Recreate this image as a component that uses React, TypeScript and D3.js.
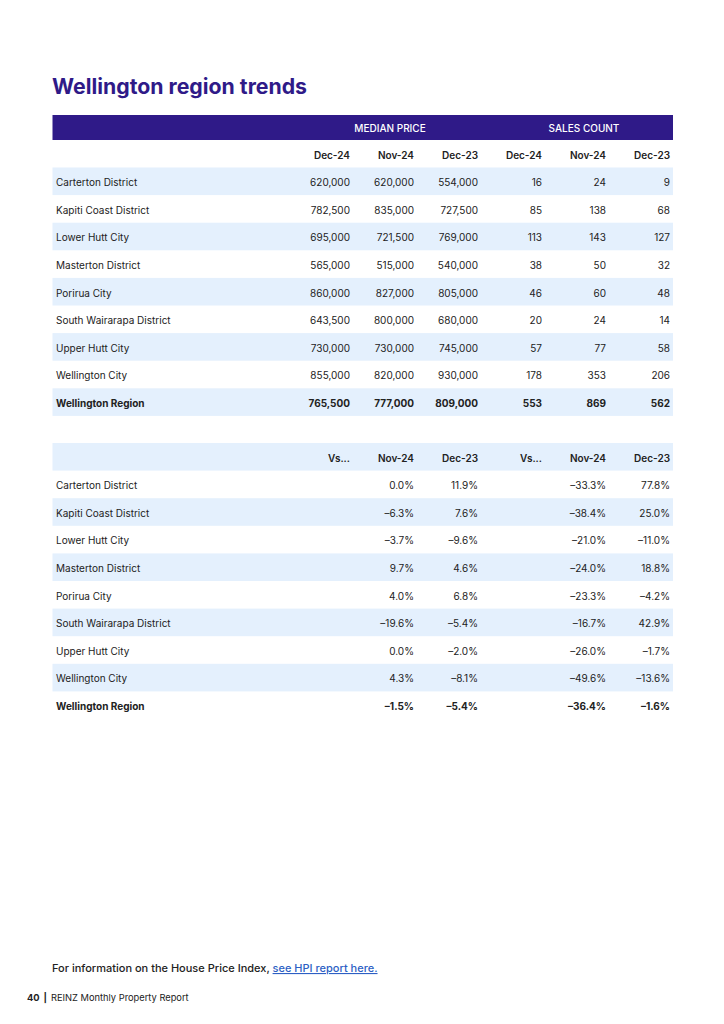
import React from "react";
import * as d3 from "d3";

const regions = [
  "Carterton District",
  "Kapiti Coast District",
  "Lower Hutt City",
  "Masterton District",
  "Porirua City",
  "South Wairarapa District",
  "Upper Hutt City",
  "Wellington City",
  "Wellington Region",
];
const priceDec24 = [620000, 782500, 695000, 565000, 860000, 643500, 730000, 855000, 765500];
const priceNov24 = [620000, 835000, 721500, 515000, 827000, 800000, 730000, 820000, 777000];
const priceDec23 = [554000, 727500, 769000, 540000, 805000, 680000, 745000, 930000, 809000];
const salesDec24 = [16, 85, 113, 38, 46, 20, 57, 178, 553];
const salesNov24 = [24, 138, 143, 50, 60, 24, 77, 353, 869];
const salesDec23 = [9, 68, 127, 32, 48, 14, 58, 206, 562];
const priceVsNov24 = [0.0, -6.3, -3.7, 9.7, 4.0, -19.6, 0.0, 4.3, -1.5];
const priceVsDec23 = [11.9, 7.6, -9.6, 4.6, 6.8, -5.4, -2.0, -8.1, -5.4];
const salesVsNov24 = [-33.3, -38.4, -21.0, -24.0, -23.3, -16.7, -26.0, -49.6, -36.4];
const salesVsDec23 = [77.8, 25.0, -11.0, 18.8, -4.2, 42.9, -1.7, -13.6, -1.6];
const columnsTop = ["Dec-24", "Nov-24", "Dec-23", "Dec-24", "Nov-24", "Dec-23"];
const columnsBottom = ["Vs...", "Nov-24", "Dec-23", "Vs...", "Nov-24", "Dec-23"];
const groups = ["MEDIAN PRICE", "SALES COUNT"];

const FONT = "Inter, 'Noto Sans', sans-serif";
const PURPLE = "#2f1a88";
const BAND = "#e4f0fd";
const TEXT = "#222";

const fmtInt = d3.format(",");
const fmtPct = (v: number) => {
  const s = Math.abs(v).toFixed(1) + "%";
  return v < 0 ? "\u2013" + s : s;
};

export default function App() {
  const left = 52.5;
  const right = 673;
  const rowH = 27.6;
  const colX = d3.scalePoint<number>().domain(d3.range(6)).range([350, 670]);
  const groupCenter = d3.scalePoint<number>().domain([0, 1]).range([390, 584]);

  const topVals = regions.map((_, i) => [
    fmtInt(priceDec24[i]),
    fmtInt(priceNov24[i]),
    fmtInt(priceDec23[i]),
    String(salesDec24[i]),
    String(salesNov24[i]),
    String(salesDec23[i]),
  ]);
  const bottomVals = regions.map((_, i) => [
    "",
    fmtPct(priceVsNov24[i]),
    fmtPct(priceVsDec23[i]),
    "",
    fmtPct(salesVsNov24[i]),
    fmtPct(salesVsDec23[i]),
  ]);

  const t1Header = 115;
  const t1ColRow = 140;
  const t1RowsStart = 167.5;
  const t2Start = 443;
  const off = rowH / 2 + 4.8;

  const yTop = d3.scaleLinear().domain([0, 1]).range([t1RowsStart, t1RowsStart + rowH]);
  const yBot = d3.scaleLinear().domain([0, 1]).range([t2Start + rowH, t2Start + 2 * rowH]);

  return (
    <svg
      width={724}
      height={1024}
      style={{ position: "absolute", left: 0, top: 0, background: "#fff" }}
      fontFamily={FONT}
    >
      <rect x={0} y={0} width={724} height={1024} fill="#fff" />
      <text x={52} y={94} fontSize={21} fontWeight={700} fill={PURPLE} textLength={255} lengthAdjust="spacingAndGlyphs">
        Wellington region trends
      </text>

      {/* Table 1 header */}
      <rect x={left} y={t1Header} width={right - left} height={t1ColRow - t1Header} fill={PURPLE} />
      {groups.map((g, i) => (
        <text key={g} x={groupCenter(i)} y={131.5} fontSize={10} fontWeight={500} fill="#fff" textAnchor="middle">
          {g}
        </text>
      ))}
      {columnsTop.map((c, j) => (
        <text key={"ct" + j} x={colX(j)} y={159} fontSize={10} fontWeight={600} fill={TEXT} textAnchor="end">
          {c}
        </text>
      ))}
      {regions.map((r, i) => {
        const y0 = yTop(i);
        const bold = i === regions.length - 1;
        return (
          <g key={"t1" + r}>
            {i % 2 === 0 && <rect x={left} y={y0} width={right - left} height={rowH} fill={BAND} />}
            <text x={56} y={y0 + off} fontSize={10} fontWeight={bold ? 700 : 400} fill={TEXT}>
              {r}
            </text>
            {topVals[i].map((v, j) => (
              <text
                key={j}
                x={colX(j)}
                y={y0 + off}
                fontSize={10}
                fontWeight={bold ? 700 : 400}
                fill={TEXT}
                textAnchor="end"
              >
                {v}
              </text>
            ))}
          </g>
        );
      })}

      {/* Table 2 */}
      <rect x={left} y={t2Start} width={right - left} height={rowH} fill={BAND} />
      {columnsBottom.map((c, j) => (
        <text key={"cb" + j} x={colX(j)} y={t2Start + off} fontSize={10} fontWeight={600} fill={TEXT} textAnchor="end">
          {c}
        </text>
      ))}
      {regions.map((r, i) => {
        const y0 = yBot(i);
        const bold = i === regions.length - 1;
        return (
          <g key={"t2" + r}>
            {i % 2 === 1 && <rect x={left} y={y0} width={right - left} height={rowH} fill={BAND} />}
            <text x={56} y={y0 + off} fontSize={10} fontWeight={bold ? 700 : 400} fill={TEXT}>
              {r}
            </text>
            {bottomVals[i].map((v, j) => (
              <text
                key={j}
                x={colX(j)}
                y={y0 + off}
                fontSize={10}
                fontWeight={bold ? 700 : 400}
                fill={TEXT}
                textAnchor="end"
              >
                {v}
              </text>
            ))}
          </g>
        );
      })}

      {/* Footer */}
      <text x={52} y={972} fontSize={11} fontWeight={500} fill={TEXT}>
        For information on the House Price Index,{" "}
        <tspan fill="#2d5fc4" textDecoration="underline">
          see HPI report here.
        </tspan>
      </text>
      <text x={27} y={1001} fontSize={9.3} fill={TEXT}>
        <tspan fontWeight={700}>40</tspan>
        <tspan dx={4} fontWeight={700}>|</tspan>
        <tspan dx={4}>REINZ Monthly Property Report</tspan>
      </text>
    </svg>
  );
}
